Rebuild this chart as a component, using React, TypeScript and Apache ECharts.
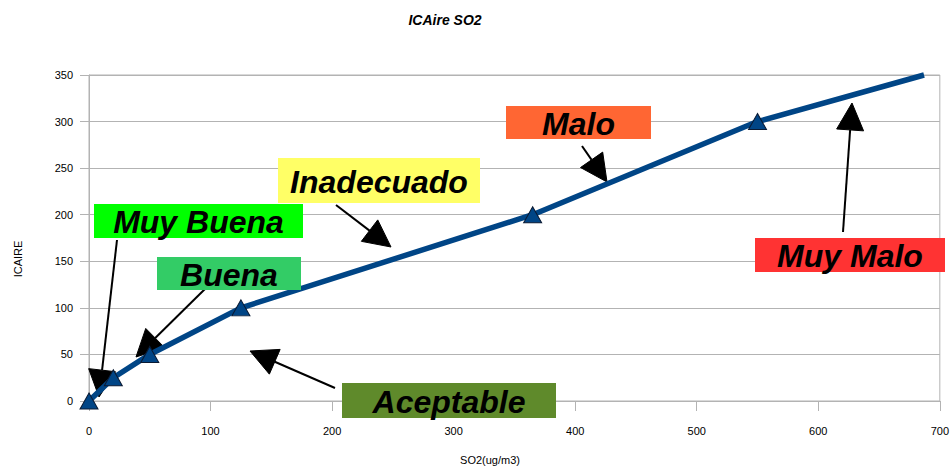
import React, { useEffect, useRef } from "react";
import * as echarts from "echarts";

// Data
const so2Values = [0, 20, 50, 125, 365, 550, 687];
const icaireValues = [0, 25, 50, 100, 200, 300, 350];
const xTicks = [0, 100, 200, 300, 400, 500, 600, 700];
const yTicks = [0, 50, 100, 150, 200, 250, 300, 350];

// Category annotations: label, colour
const categoryNames = ["Muy Buena", "Buena", "Aceptable", "Inadecuado", "Malo", "Muy Malo"];
const categoryColors = ["#00ff00", "#33cc66", "#5f8a2b", "#ffff66", "#ff6633", "#ff3333"];

// Layout (pixels) for the annotation boxes and arrows
const boxLayout = [
  { x: 94, y: 204, w: 209, h: 34 },
  { x: 157, y: 257, w: 144, h: 33 },
  { x: 342, y: 383, w: 214, h: 35 },
  { x: 278, y: 158, w: 202, h: 45 },
  { x: 506, y: 106, w: 145, h: 33 },
  { x: 755, y: 238, w: 190, h: 34 },
];
const arrowLayout = [
  { x1: 117, y1: 240, x2: 99, y2: 397 },
  { x1: 207, y1: 287, x2: 136, y2: 357 },
  { x1: 335, y1: 388, x2: 250, y2: 351 },
  { x1: 336, y1: 205, x2: 391, y2: 247 },
  { x1: 582, y1: 146, x2: 607, y2: 182 },
  { x1: 843, y1: 232, x2: 852, y2: 103 },
];

const FONT = "'Liberation Sans', Arial, sans-serif";
const GRID_COLOR = "#b3b3b3";

function arrowElements(a: { x1: number; y1: number; x2: number; y2: number }) {
  const dx = a.x2 - a.x1;
  const dy = a.y2 - a.y1;
  const L = Math.hypot(dx, dy);
  const ux = dx / L;
  const uy = dy / L;
  const len = 27;
  const half = 13.5;
  const bx = a.x2 - ux * len;
  const by = a.y2 - uy * len;
  const px = -uy;
  const py = ux;
  return [
    {
      type: "line",
      z: 1,
      shape: { x1: a.x1, y1: a.y1, x2: bx, y2: by },
      style: { stroke: "#000", lineWidth: 2 },
    },
    {
      type: "polygon",
      z: 1,
      shape: {
        points: [
          [a.x2, a.y2],
          [bx + px * half, by + py * half],
          [bx - px * half, by - py * half],
        ],
      },
      style: { fill: "#000", stroke: "#000", lineWidth: 1 },
    },
  ];
}

export default function App() {
  const ref = useRef<HTMLDivElement>(null);

  useEffect(() => {
    if (!ref.current) return;
    const chart = echarts.init(ref.current, null, { renderer: "svg" });

    const seriesData = so2Values.map((x, i) =>
      i === so2Values.length - 1
        ? { value: [x, icaireValues[i]], symbol: "none" }
        : { value: [x, icaireValues[i]] }
    );

    const graphics: any[] = [];
    arrowLayout.forEach((a) => graphics.push(...arrowElements(a)));
    categoryNames.forEach((name, i) => {
      const b = boxLayout[i];
      graphics.push({
        type: "rect",
        z: 100,
        shape: { x: b.x, y: b.y, width: b.w, height: b.h },
        style: { fill: categoryColors[i] },
      });
      graphics.push({
        type: "text",
        z: 101,
        x: b.x + b.w / 2,
        y: b.y + b.h / 2 + 1,
        style: {
          text: name,
          fill: "#000",
          font: `italic bold 32px ${FONT}`,
          textAlign: "center",
          textVerticalAlign: "middle",
        },
      });
    });
    graphics.push({
      type: "text",
      x: 445,
      y: 20,
      style: {
        text: "ICAire SO2",
        fill: "#000",
        font: `italic bold 14px ${FONT}`,
        textAlign: "center",
        textVerticalAlign: "middle",
      },
    });
    graphics.push({
      type: "text",
      x: 490,
      y: 460,
      style: {
        text: "SO2(ug/m3)",
        fill: "#000",
        font: `11px ${FONT}`,
        textAlign: "center",
        textVerticalAlign: "middle",
      },
    });
    graphics.push({
      type: "text",
      x: 18,
      y: 259,
      rotation: Math.PI / 2,
      style: {
        text: "ICAIRE",
        fill: "#000",
        font: `11px ${FONT}`,
        textAlign: "center",
        textVerticalAlign: "middle",
      },
    });

    chart.setOption({
      animation: false,
      backgroundColor: "#ffffff",
      grid: {
        left: 89,
        right: 11,
        top: 75,
        bottom: 65,
        show: true,
        borderColor: GRID_COLOR,
        borderWidth: 1,
      },
      xAxis: {
        type: "value",
        min: xTicks[0],
        max: xTicks[xTicks.length - 1],
        interval: xTicks[1] - xTicks[0],
        axisLine: { show: true, onZero: false, lineStyle: { color: GRID_COLOR, width: 1 } },
        axisTick: { show: true, length: 10, lineStyle: { color: GRID_COLOR } },
        splitLine: { show: false },
        axisLabel: { color: "#000", fontSize: 11, fontFamily: FONT, margin: 24 },
      },
      yAxis: {
        type: "value",
        min: yTicks[0],
        max: yTicks[yTicks.length - 1],
        interval: yTicks[1] - yTicks[0],
        axisLine: { show: true, onZero: false, lineStyle: { color: GRID_COLOR, width: 1 } },
        axisTick: { show: true, length: 9, lineStyle: { color: GRID_COLOR } },
        splitLine: { show: true, lineStyle: { color: GRID_COLOR, width: 1 } },
        axisLabel: { color: "#000", fontSize: 11, fontFamily: FONT, margin: 16 },
      },
      series: [
        {
          type: "line",
          data: seriesData,
          clip: false,
          z: 2,
          symbol: "triangle",
          symbolSize: [18, 16],
          showAllSymbol: true,
          lineStyle: { color: "#004586", width: 5.5 },
          itemStyle: { color: "#004586", borderColor: "#0a1a33", borderWidth: 1 },
        },
      ],
      graphic: graphics,
    });

    return () => chart.dispose();
  }, []);

  return (
    <div
      ref={ref}
      style={{ position: "fixed", left: 0, top: 0, width: 952, height: 466 }}
    />
  );
}
